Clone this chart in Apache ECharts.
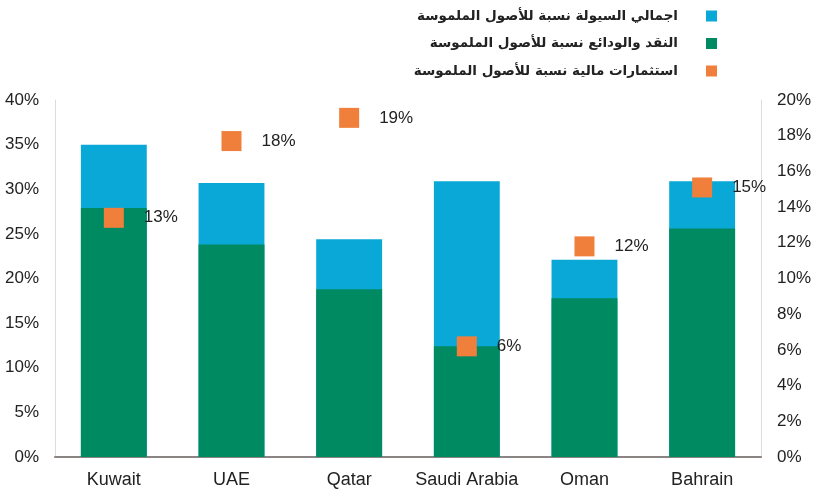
<!DOCTYPE html>
<html>
<head>
<meta charset="utf-8">
<script src="https://cdn.jsdelivr.net/npm/echarts@6/dist/echarts.min.js"></script>
<style>html,body{margin:0;padding:0;background:#fff}#c{width:814px;height:500px}</style>
</head>
<body>
<div id="c"></div>
<script>
const categories = ['Kuwait', 'UAE', 'Qatar', 'Saudi Arabia', 'Oman', 'Bahrain'];
const totalLiquidity = [35.0, 30.7, 24.4, 30.9, 22.1, 30.9];
const cashDeposits = [27.9, 23.8, 18.8, 12.4, 17.8, 25.6];
const investments = [13.4, 17.7, 19.0, 6.2, 11.8, 15.1];
const leftTicks = { min: 0, max: 40, interval: 5 };
const rightTicks = { min: 0, max: 20, interval: 2 };
const names = ['اجمالي السيولة نسبة للأصول الملموسة', 'النقد والودائع نسبة للأصول الملموسة', 'استثمارات مالية نسبة للأصول الملموسة'];

const chart = echarts.init(document.getElementById('c'));
chart.setOption({
  animation: false,
  color: ['#0AA8D6', '#008A62', '#F07F3C'],
  legend: {
    orient: 'vertical', align: 'right', right: 92, top: 3,
    itemWidth: 11, itemHeight: 11, itemGap: 11.5,
    textStyle: { fontSize: 13.5, lineHeight: 16, fontWeight: 'bold', color: '#222', fontFamily: 'DejaVu Sans', padding: [0, 23, 0, 0] },
    data: names.map(n => ({ name: n, icon: 'rect' }))
  },
  grid: { left: 55, right: 51, top: 100, bottom: 43 },
  xAxis: {
    type: 'category', data: categories,
    axisLine: { lineStyle: { color: '#8a8582', width: 2 } },
    axisTick: { show: false },
    axisLabel: { interval: 0, fontSize: 18, color: '#222', margin: 14, fontFamily: 'Liberation Sans' }
  },
  yAxis: [
    { type: 'value', min: leftTicks.min, max: leftTicks.max, interval: leftTicks.interval,
      axisLine: { show: true, lineStyle: { color: '#dcdcdc' } }, axisTick: { show: false }, splitLine: { show: false },
      axisLabel: { fontSize: 17, color: '#222', margin: 16, formatter: '{value}%', fontFamily: 'Liberation Sans' } },
    { type: 'value', min: rightTicks.min, max: rightTicks.max, interval: rightTicks.interval,
      axisLine: { show: true, lineStyle: { color: '#dcdcdc' } }, axisTick: { show: false }, splitLine: { show: false },
      axisLabel: { fontSize: 17, color: '#222', margin: 16, formatter: '{value}%', fontFamily: 'Liberation Sans' } }
  ],
  series: [
    { name: names[0], type: 'bar', data: totalLiquidity, barWidth: '56%', barGap: '-100%' },
    { name: names[1], type: 'bar', data: cashDeposits, barWidth: '56%', barGap: '-100%' },
    { name: names[2], type: 'scatter', yAxisIndex: 1, data: investments, symbol: 'rect', symbolSize: 20,
      itemStyle: { opacity: 1 },
      label: { show: true, position: 'right', distance: 20, fontSize: 17, color: '#222', fontFamily: 'Liberation Sans',
        formatter: p => Math.round(p.value) + '%' } }
  ]
});
</script>
</body>
</html>
